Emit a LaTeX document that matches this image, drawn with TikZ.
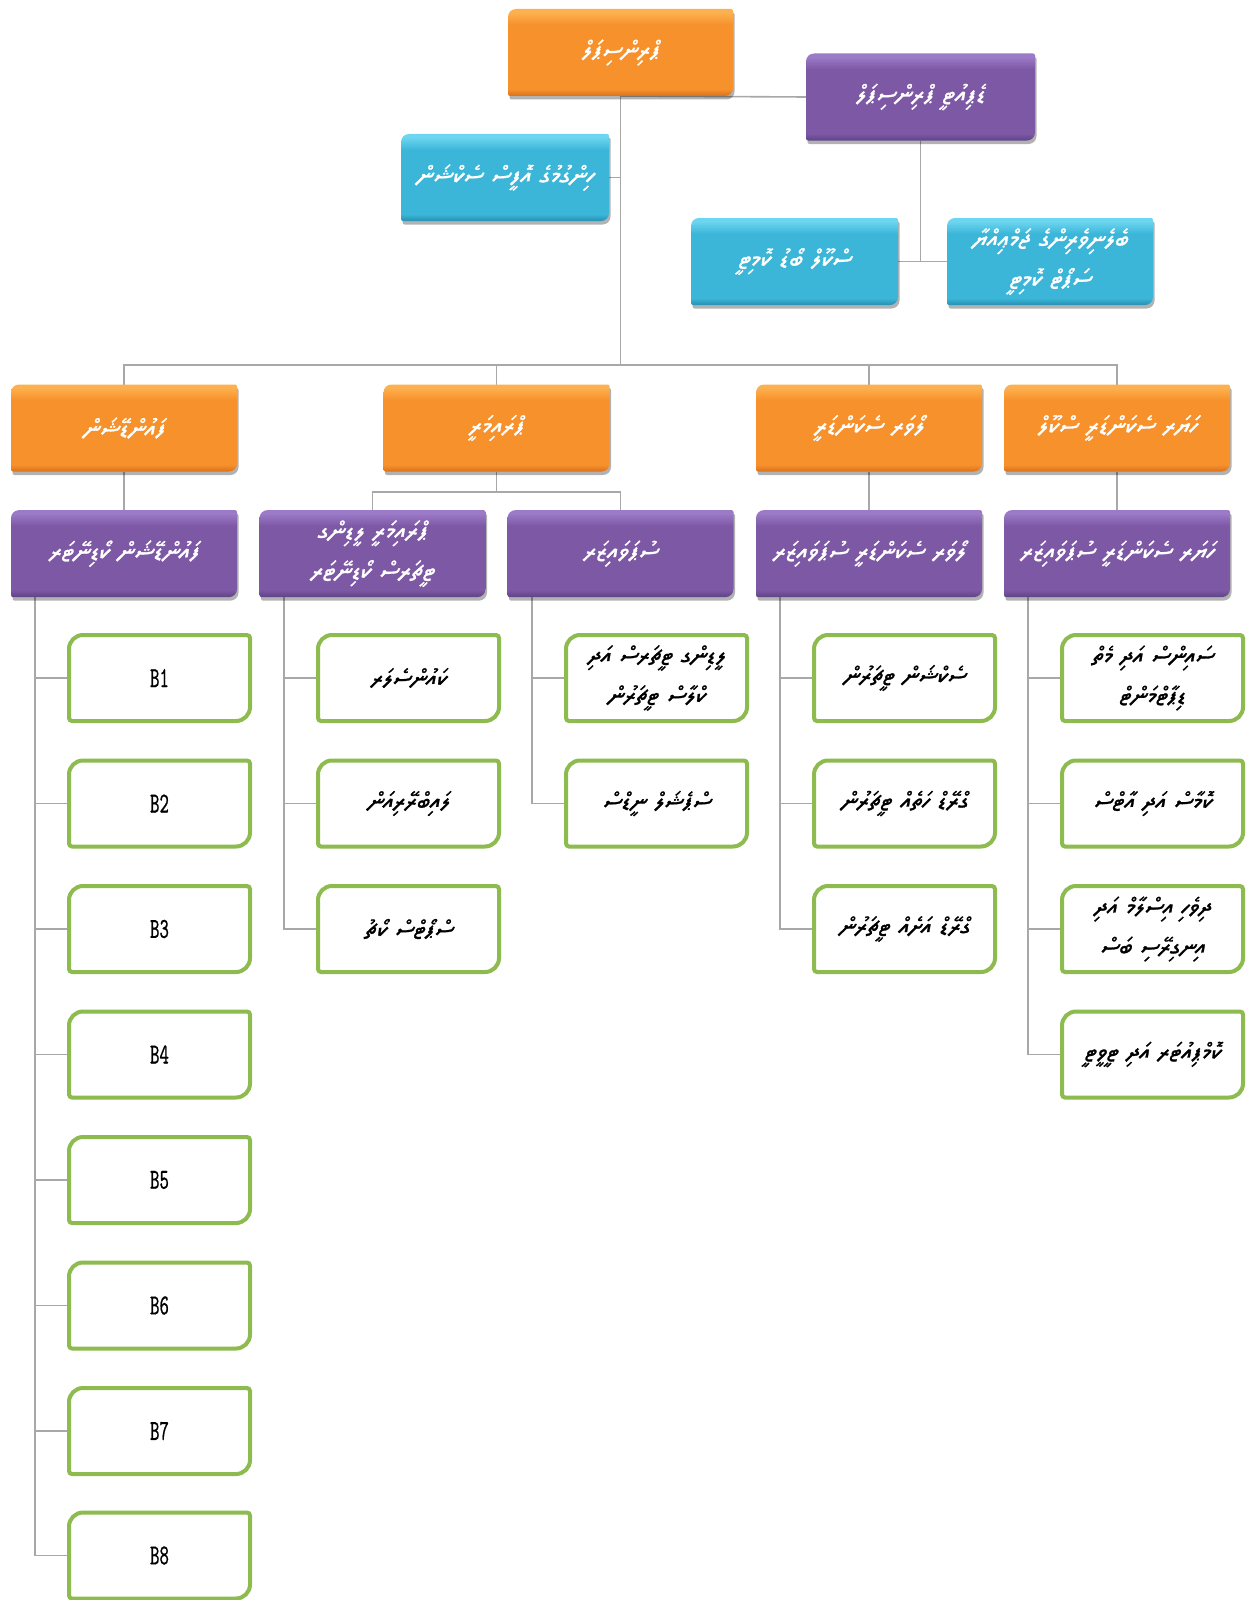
\documentclass[tikz,border=0pt]{standalone}
\usepackage{fontspec}
\usetikzlibrary{shadows}
\TeXXeTstate=1
\IfFontExistsTF{FreeSerif.otf}{\newfontfamily\dvfont[Script=Thaana,FakeSlant=0.15,FakeBold=1.2]{FreeSerif.otf}}{%
  \IfFontExistsTF{Noto Sans Thaana}{\newfontfamily\dvfont[Script=Thaana,FakeSlant=0.15,FakeBold=1.2]{Noto Sans Thaana}}{%
    \newfontfamily\dvfont{DejaVu Sans}}}
\newfontfamily\bfont[FakeStretch=0.62,FakeBold=0.6]{lmmono10-regular.otf}
\newcommand\dv[1]{{\dvfont\beginR #1\endR}}
\definecolor{linegray}{HTML}{A8A8A8}
\definecolor{gborderc}{HTML}{8DBB4F}
\definecolor{od}{HTML}{D8721E}\definecolor{om}{HTML}{F7912C}\definecolor{ol}{HTML}{FDB04E}
\definecolor{pd}{HTML}{5E4385}\definecolor{pm}{HTML}{7D58A5}\definecolor{pl}{HTML}{9B7AC8}
\definecolor{td}{HTML}{2790B2}\definecolor{tm}{HTML}{3BB6D8}\definecolor{tl}{HTML}{6CD5F0}
\pgfdeclareverticalshading{obev}{100bp}{color(0bp)=(od); color(25bp)=(od); color(29bp)=(om); color(66bp)=(om); color(73bp)=(ol); color(100bp)=(ol)}
\pgfdeclareverticalshading{pbev}{100bp}{color(0bp)=(pd); color(25bp)=(pd); color(29bp)=(pm); color(66bp)=(pm); color(73bp)=(pl); color(100bp)=(pl)}
\pgfdeclareverticalshading{tbev}{100bp}{color(0bp)=(td); color(25bp)=(td); color(29bp)=(tm); color(66bp)=(tm); color(73bp)=(tl); color(100bp)=(tl)}
\pgfdeclarelayer{bg}
\pgfdeclarelayer{lines}
\pgfdeclarelayer{shapes}
\pgfsetlayers{bg,lines,shapes,main}
\tikzset{
  conn/.style={draw=linegray, line width=1.6pt},
  ctext/.style={minimum height=87pt, inner sep=3pt, outer sep=0pt, text=white, align=center, font=\fontsize{25}{40}\selectfont},
  gtext/.style={minimum width=181pt, minimum height=86pt, inner sep=2pt, outer sep=0pt, text width=175pt, align=center, text=black, font=\fontsize{24}{40}\selectfont},
  shad/.style={drop shadow={shadow xshift=1.5pt, shadow yshift=-3.5pt, opacity=0.3, fill=black}},
  ofill/.style={shad, shading=obev},
  pfill/.style={shad, shading=pbev},
  tfill/.style={shad, shading=tbev},
  gborder/.style={draw=gborderc, line width=4pt, fill=white, rounded corners=3pt},
}
% colored box: name, x, y, width, fill style, text
\newcommand\cbox[6]{%
  \node[ctext, minimum width=#4pt, text width=#4pt-14pt] (#1) at (#2,#3) {#6};
  \begin{pgfonlayer}{shapes}
    \path[#5, rounded corners=2pt] (#1.west) {[rounded corners=8pt] -- (#1.north west) -- (#1.north)} -- (#1.north east) -- (#1.east) {[rounded corners=8pt] -- (#1.south east) -- (#1.south)} -- (#1.south west) -- cycle;
  \end{pgfonlayer}}
% green box: name, x, y, text
\newcommand\gbox[4]{%
  \node[gtext] (#1) at (#2,#3) {#4};
  \begin{pgfonlayer}{shapes}
    \draw[gborder] (#1.west) {[rounded corners=14pt] -- (#1.north west) -- (#1.north)} -- (#1.north east) -- (#1.east) {[rounded corners=14pt] -- (#1.south east) -- (#1.south)} -- (#1.south west) -- cycle;
  \end{pgfonlayer}}
\newcommand\blab[1]{{\bfont\fontsize{29}{29}\selectfont #1}}
\begin{document}
\begin{tikzpicture}[x=1pt,y=-1pt]
\useasboundingbox (0,0) rectangle (1248,1600);
\begin{pgfonlayer}{bg}
  \fill[white] (0,0) rectangle (1248,1600);
\end{pgfonlayer}

% top level
\cbox{prin}{620.5}{52.5}{225}{ofill}{\dv{ޕްރިންސިޕަލް}}
\cbox{dep}{920.5}{97}{229}{pfill}{\dv{ޑެޕިއުޓީ ޕްރިންސިޕަލް}}
\cbox{blueA}{505}{177.5}{208}{tfill}{\dv{ހިންގުމުގެ އޮފީސް ސެކްޝަން}}
\cbox{blueB}{794.5}{261.5}{207}{tfill}{\dv{ސްކޫލް ބޯޑު ކޮމިޓީ}}
\cbox{blueC}{1050}{261.5}{206}{tfill}{\dv{ބެލެނިވެރިންގެ ޖަމްޢިއްޔާ}\\\dv{ސަޕޯޓް ކޮމިޓީ}}

% orange row
\cbox{oA}{124}{428}{226}{ofill}{\dv{ފައުންޑޭޝަން}}
\cbox{oB}{496.5}{428}{226}{ofill}{\dv{ޕްރައިމަރީ}}
\cbox{oC}{869}{428}{226}{ofill}{\dv{ލޯވަރ ސެކަންޑަރީ}}
\cbox{oD}{1117}{428}{226}{ofill}{\dv{ހަޔަރ ސެކަންޑަރީ ސްކޫލް}}

% purple row
\cbox{pA}{124}{553.6}{226}{pfill}{\dv{ފައުންޑޭޝަން ކޯޑިނޭޓަރ}}
\cbox{pB}{372.5}{553.6}{226}{pfill}{\dv{ޕްރައިމަރީ ލީޑިންގ}\\\dv{ޓީޗަރސް ކޯޑިނޭޓަރ}}
\cbox{pC}{620.5}{553.6}{226}{pfill}{\dv{ސުޕަވައިޒަރ}}
\cbox{pD}{869}{553.6}{226}{pfill}{\dv{ލޯވަރ ސެކަންޑަރީ ސުޕަވައިޒަރ}}
\cbox{pE}{1117}{553.6}{226}{pfill}{\dv{ހަޔަރ ސެކަންޑަރީ ސުޕަވައިޒަރ}}

% green column 1
\gbox{gA1}{159.5}{678}{\blab{B1}}
\gbox{gA2}{159.5}{803.5}{\blab{B2}}
\gbox{gA3}{159.5}{929}{\blab{B3}}
\gbox{gA4}{159.5}{1054.5}{\blab{B4}}
\gbox{gA5}{159.5}{1180}{\blab{B5}}
\gbox{gA6}{159.5}{1305.5}{\blab{B6}}
\gbox{gA7}{159.5}{1431}{\blab{B7}}
\gbox{gA8}{159.5}{1555.5}{\blab{B8}}
% column 2
\gbox{gB1}{408.5}{678}{\dv{ކައުންސެލަރ}}
\gbox{gB2}{408.5}{803.5}{\dv{ލައިބްރޭރިއަން}}
\gbox{gB3}{408.5}{929}{\dv{ސްޕޯޓްސް ކޯޗު}}
% column 3
\gbox{gC1}{656.5}{678}{\dv{ލީޑިންގ ޓީޗަރސް އަދި}\\\dv{ކްލާސް ޓީޗަރުން}}
\gbox{gC2}{656.5}{803.5}{\dv{ސްޕެޝަލް ނީޑްސް}}
% column 4
\gbox{gD1}{904.5}{678}{\dv{ސެކްޝަން ޓީޗަރުން}}
\gbox{gD2}{904.5}{803.5}{\dv{ގްރޭޑް ހަތެއް ޓީޗަރުން}}
\gbox{gD3}{904.5}{929}{\dv{ގްރޭޑް އަށެއް ޓީޗަރުން}}
% column 5
\gbox{gE1}{1152.5}{678}{\dv{ސައިންސް އަދި މެތް}\\\dv{ޑިޕާޓްމަންޓް}}
\gbox{gE2}{1152.5}{803.5}{\dv{ކޮމާސް އަދި އާޓްސް}}
\gbox{gE3}{1152.5}{929}{\dv{ދިވެހި އިސްލާމް އަދި}\\\dv{އިނގިރޭސި ބަސް}}
\gbox{gE4}{1152.5}{1054.5}{\dv{ކޮމްޕިއުޓަރ އަދި ޓީވީޓީ}}

% connectors
\coordinate (bus) at (620.5,365);
\coordinate (osplit) at (496.5,492);
\coordinate (vA) at (35,597);
\coordinate (vB) at (284,597);
\coordinate (vC) at (532,597);
\coordinate (vD) at (780,597);
\coordinate (vE) at (1028,597);
\begin{pgfonlayer}{lines}
  \draw[conn] (prin.south) -- (bus);
  \draw[conn] (prin.south) -- (dep.west);
  \draw[conn] (blueA.east) -- (blueA.east -| prin.south);
  \draw[conn] (dep.south) -- (dep.south |- blueB.east);
  \draw[conn] (blueB.east) -- (blueC.west);
  \draw[conn] (oA.north) |- (bus) -| (oD.north);
  \draw[conn] (oB.north) -- (oB.north |- bus);
  \draw[conn] (oC.north) -- (oC.north |- bus);
  \draw[conn] (oA.south) -- (pA.north);
  \draw[conn] (oB.south) -- (osplit);
  \draw[conn] (pB.north) |- (osplit);
  \draw[conn] (pC.north) |- (osplit);
  \draw[conn] (oC.south) -- (pD.north);
  \draw[conn] (oD.south) -- (pE.north);
  \draw[conn] (vA) |- (gA8.west);
  \foreach \g in {gA1,gA2,gA3,gA4,gA5,gA6,gA7} {\draw[conn] (\g.west) -- (\g.west -| vA);}
  \draw[conn] (vB) |- (gB3.west);
  \foreach \g in {gB1,gB2} {\draw[conn] (\g.west) -- (\g.west -| vB);}
  \draw[conn] (vC) |- (gC2.west);
  \draw[conn] (gC1.west) -- (gC1.west -| vC);
  \draw[conn] (vD) |- (gD3.west);
  \foreach \g in {gD1,gD2} {\draw[conn] (\g.west) -- (\g.west -| vD);}
  \draw[conn] (vE) |- (gE4.west);
  \foreach \g in {gE1,gE2,gE3} {\draw[conn] (\g.west) -- (\g.west -| vE);}
\end{pgfonlayer}
\end{tikzpicture}
\end{document}
